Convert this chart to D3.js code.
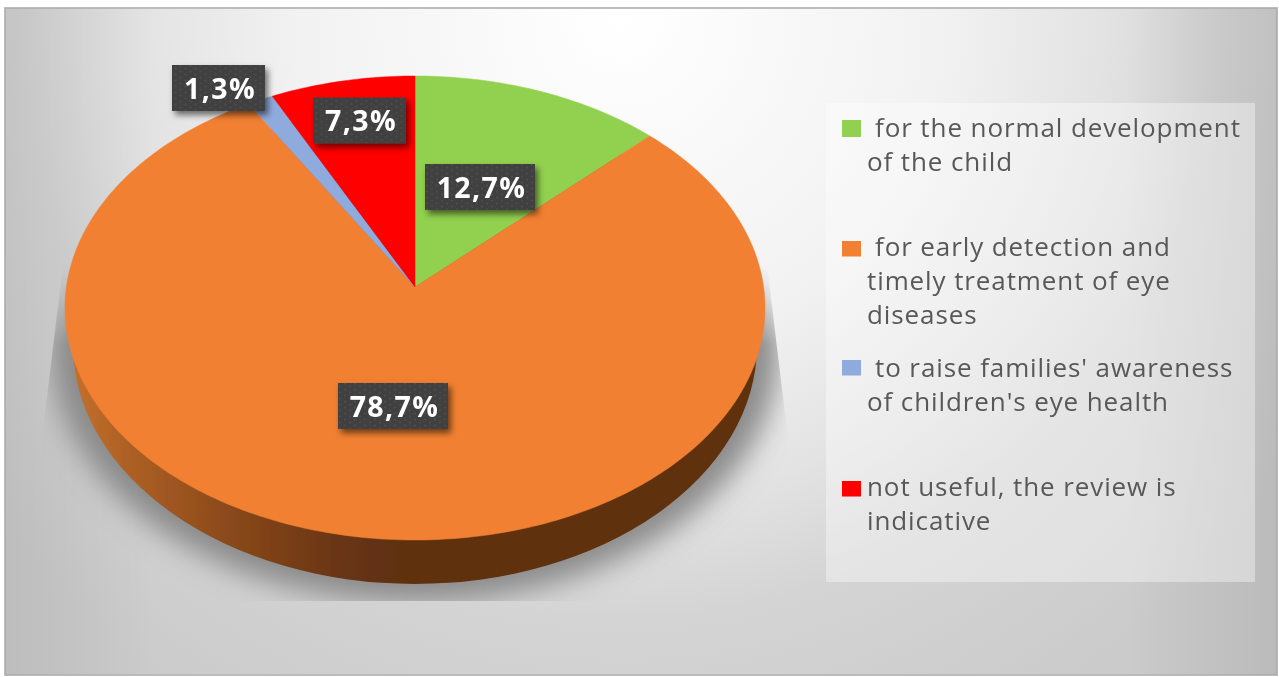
<!DOCTYPE html>
<html><head><meta charset="utf-8">
<script src="https://cdn.jsdelivr.net/npm/d3@7/dist/d3.min.js"></script>
<style>html,body{margin:0;padding:0;background:#fff;overflow:hidden}svg{display:block}</style>
</head><body><svg id="c" width="1279" height="677"></svg>
<script>
const categories = [" for the normal development of the child"," for early detection and timely treatment of eye diseases"," to raise families' awareness of children's eye health","not useful, the review is indicative"];
const values = [12.7,78.7,1.3,7.3];
const colors = ["#92d050","#f18032","#8faadc","#ff0000"];
const legendLines = [[" for the normal development","of the child"],[" for early detection and","timely treatment of eye","diseases"],[" to raise families' awareness","of children's eye health"],["not useful, the review is","indicative"]];

const layout = {
  cx:415, apexY:287, A:348.6, B:230.1, k:0.0905,
  lower:{cx:415,cy:345,rx:342,ry:239},
  labels:[[480,187],[393,406],[218.5,88],[359.5,120.5]],
  labelW:[110,110,93,93], labelH:46,
  legendBaselines:[[137,171],[256,290,324],[377,411],[496,530]],
  swatchY:[120,241,360,481]
};
const svg = d3.select("#c"), defs = svg.append("defs");

const bg = defs.append("radialGradient").attr("id","bg").attr("gradientUnits","userSpaceOnUse")
  .attr("cx",0).attr("cy",0).attr("r",1).attr("gradientTransform","translate(620,20) scale(800,800)");
[[0,"#ffffff"],[0.4,"#f2f2f2"],[0.6,"#e3e3e3"],[0.75,"#d4d4d4"],[1.0,"#cbcbcb"]].forEach(s=>bg.append("stop").attr("offset",s[0]).attr("stop-color",s[1]));
const ov = defs.append("linearGradient").attr("id","ov").attr("gradientUnits","userSpaceOnUse").attr("x1",4).attr("x2",1277).attr("y1",0).attr("y2",0);
[[0,0.07],[0.12,0],[0.88,0],[1,0.08]].forEach(s=>ov.append("stop").attr("offset",s[0]).attr("stop-color","#000").attr("stop-opacity",s[1]));
const side = defs.append("linearGradient").attr("id","side").attr("gradientUnits","userSpaceOnUse").attr("x1",70).attr("x2",400).attr("y1",0).attr("y2",0);
[[0,"#c4702c"],[0.2,"#ab5e24"],[0.5,"#88481a"],[0.8,"#6a3614"],[1,"#5f3011"]].forEach(s=>side.append("stop").attr("offset",s[0]).attr("stop-color",s[1]));
defs.append("filter").attr("id","shblur").attr("x","-20%").attr("y","-20%").attr("width","140%").attr("height","140%").append("feGaussianBlur").attr("stdDeviation",14);
defs.append("filter").attr("id","soft").attr("x","-5%").attr("y","-5%").attr("width","110%").attr("height","110%").append("feGaussianBlur").attr("stdDeviation",0.45);
defs.append("filter").attr("id","edge").attr("x","-5%").attr("y","-5%").attr("width","110%").attr("height","110%").append("feGaussianBlur").attr("stdDeviation",0.6);
const lf = defs.append("filter").attr("id","lab").attr("x","-20%").attr("y","-30%").attr("width","140%").attr("height","170%");
lf.append("feDropShadow").attr("dx",3).attr("dy",4).attr("stdDeviation",3).attr("flood-color","#000").attr("flood-opacity",0.55);
const pat = defs.append("pattern").attr("id","dots").attr("patternUnits","userSpaceOnUse").attr("width",10).attr("height",6);
pat.append("rect").attr("width",10).attr("height",6).attr("fill","#404040");
pat.append("circle").attr("cx",2).attr("cy",1.5).attr("r",0.9).attr("fill","#505050");
pat.append("circle").attr("cx",7).attr("cy",4.5).attr("r",0.9).attr("fill","#505050");
defs.append("clipPath").attr("id","shclip").append("polygon").attr("points","66,240 764,240 787,430 787,601 43,601 43,430");
const fade = defs.append("linearGradient").attr("id","fade").attr("gradientUnits","userSpaceOnUse").attr("x1",0).attr("x2",0).attr("y1",265).attr("y2",345);
[[0,"#000"],[1,"#fff"]].forEach(s=>fade.append("stop").attr("offset",s[0]).attr("stop-color",s[1]));
defs.append("mask").attr("id","shmask").attr("maskUnits","userSpaceOnUse").attr("x",0).attr("y",0).attr("width",1279).attr("height",677)
  .append("rect").attr("width",1279).attr("height",677).attr("fill","url(#fade)");

// background
svg.append("rect").attr("x",5).attr("y",8).attr("width",1272).attr("height",667).attr("fill","url(#bg)").attr("stroke","#bcbcbc").attr("stroke-width",2);
svg.append("rect").attr("x",5).attr("y",8).attr("width",1272).attr("height",667).attr("fill","url(#ov)");

// perspective projection of the pie disc
const proj = a => { const s=Math.sin(a), c=Math.cos(a), w=1+layout.k*c;
  return [layout.cx+layout.A*s/w, layout.apexY-layout.B*c/w]; };
const line = d3.line();
const color = d3.scaleOrdinal().domain(categories).range(colors);
const arcs = d3.pie().sort(null).value(d=>d)(values);
const slicePath = d => { const n=Math.max(4,Math.ceil((d.endAngle-d.startAngle)*60));
  const pts=d3.range(n+1).map(i=>proj(d.startAngle+(d.endAngle-d.startAngle)*i/n));
  return line([[layout.cx,layout.apexY],...pts])+"Z"; };

// shadow
svg.append("g").attr("mask","url(#shmask)").append("g").attr("clip-path","url(#shclip)").append("ellipse")
  .attr("cx",layout.lower.cx).attr("cy",layout.lower.cy+4).attr("rx",layout.lower.rx+22).attr("ry",layout.lower.ry+14)
  .attr("fill","#8a8a8a").attr("filter","url(#shblur)");

const pie = svg.append("g").attr("filter","url(#edge)");
pie.append("ellipse").attr("cx",layout.lower.cx).attr("cy",layout.lower.cy).attr("rx",layout.lower.rx).attr("ry",layout.lower.ry).attr("fill","url(#side)");
pie.selectAll("path.s").data(arcs).join("path").attr("class","s").attr("d",slicePath)
  .attr("fill",(d,i)=>color(categories[i])).attr("stroke",(d,i)=>color(categories[i])).attr("stroke-width",0.5);

// labels
const fmt = v => d3.format(".1f")(v).replace(".",",")+"%";
const lab = svg.selectAll("g.l").data(values).join("g").attr("class","l")
  .attr("transform",(d,i)=>`translate(${layout.labels[i]})`);
lab.append("rect").attr("x",(d,i)=>-layout.labelW[i]/2).attr("y",-layout.labelH/2).attr("width",(d,i)=>layout.labelW[i]).attr("height",layout.labelH)
  .attr("fill","url(#dots)").attr("filter","url(#lab)");
lab.append("text").attr("text-anchor","middle").attr("x",1.5).attr("y",10.5).attr("fill","#fff").attr("font-family","'Open Sans',sans-serif").attr("font-weight",700).attr("font-size",28.5).attr("letter-spacing",1.4).attr("filter","url(#soft)").text(fmt);

// legend
svg.append("rect").attr("x",826).attr("y",103).attr("width",429).attr("height",479).attr("fill","#fff").attr("fill-opacity",0.38);
const leg = svg.selectAll("g.k").data(categories).join("g").attr("class","k");
leg.append("rect").attr("x",842).attr("y",(d,i)=>layout.swatchY[i]).attr("width",19).attr("height",(d,i)=>i==0?17:15.5).attr("fill",d=>color(d));
leg.each(function(d,i){
  const g=d3.select(this);
  legendLines[i].forEach((t,j)=>{
    g.append("text").attr("x",(j==0&&t[0]==" ")?875:867).attr("y",layout.legendBaselines[i][j])
     .attr("fill","#585858").attr("font-family","'Open Sans',sans-serif").attr("font-size",26).attr("letter-spacing",0.9).attr("filter","url(#soft)").text(t.trim());
  });
});
</script></body></html>
